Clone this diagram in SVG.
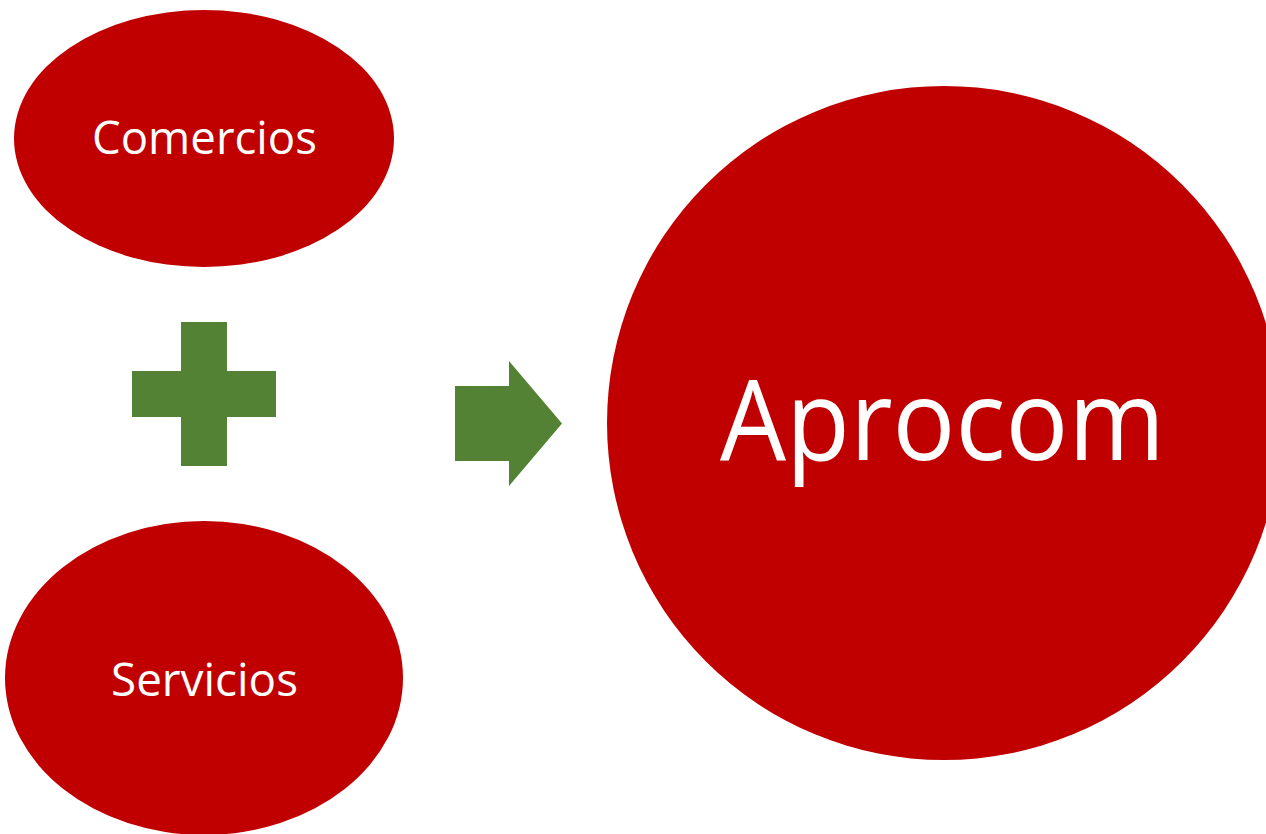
<svg xmlns="http://www.w3.org/2000/svg" width="1266" height="834" viewBox="0 0 1266 834">
<style>
.node{fill:#C00000}
.lbl{fill:#FFFFFF;font-family:"Open Sans","Liberation Sans",sans-serif;text-anchor:middle}
.sym{fill:#548235}
</style>
<rect width="1266" height="834" fill="#FFFFFF"/>
<g id="comercios">
<ellipse class="node" cx="204" cy="138.5" rx="190" ry="128.5"/>
<text class="lbl" x="204.5" y="154" font-size="46" textLength="225" lengthAdjust="spacingAndGlyphs">Comercios</text>
</g>
<g id="servicios">
<ellipse class="node" cx="204" cy="678" rx="199" ry="157"/>
<text class="lbl" x="204.5" y="696" font-size="46" textLength="187" lengthAdjust="spacingAndGlyphs">Servicios</text>
</g>
<g id="aprocom">
<circle class="node" cx="944" cy="423" r="337"/>
<text class="lbl" x="942.5" y="460" font-size="112" textLength="445" lengthAdjust="spacingAndGlyphs">Aprocom</text>
</g>
<g id="connectors">
<path class="sym" d="M181 322H227V371H276V417H227V466H181V417H132V371H181Z"/>
<path class="sym" d="M455 386H509V361L562 423.5L509 486V461H455Z"/>
</g>
</svg>
